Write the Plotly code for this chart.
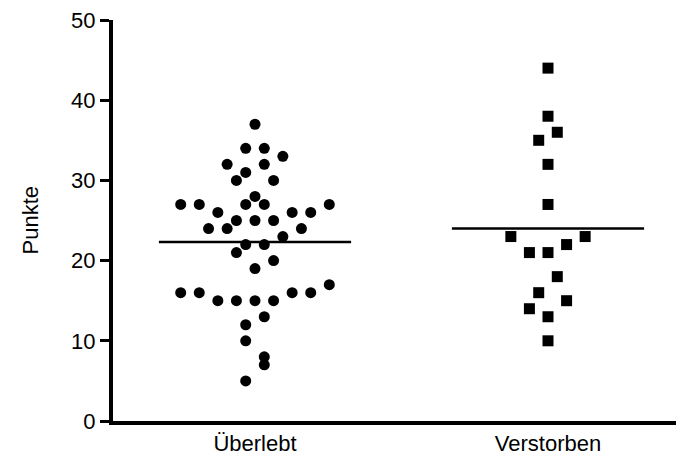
import numpy as np
import plotly.graph_objects as go

# ---- data ----
categories = ["Überlebt", "Verstorben"]

survived_values = [37, 34, 34, 33, 32, 32, 31, 30, 30, 28,
                   27, 27, 27, 27, 27, 26, 26, 26, 25, 25, 25,
                   24, 24, 24, 23, 22, 22, 21, 20, 19, 17,
                   16, 16, 16, 16, 15, 15, 15, 15, 13, 12, 10, 8, 7, 5]
# horizontal swarm slot of each point (in marker-spacing units)
survived_slots = [0, -1, 1, 3, -3, 1, -1, -2, 2, 0,
                  -8, -6, -1, 1, 8, -4, 4, 6, -2, 0, 2,
                  -5, -3, 5, 3, -1, 1, -2, 2, 0, 8,
                  -8, -6, 4, 6, -4, -2, 0, 2, 1, -1, -1, 1, 1, -1]

died_values = [44, 38, 36, 35, 32, 27, 23, 23, 22, 21, 21, 18, 16, 15, 14, 13, 10]
died_slots = [0, 0, 1, -1, 0, 0, -4, 4, 2, -2, 0, 1, -1, 2, -2, 0, 0]

y_ticks = [0, 10, 20, 30, 40, 50]
y_title = "Punkte"

# ---- style ----
FONT = "Liberation Sans, Arial, sans-serif"
swarm_step = 0.0317     # x-axis units between neighbouring swarm slots
mean_halfwidth = 0.328  # x-axis units
marker_size = 11

fig = go.Figure()

groups = [
    (survived_values, survived_slots, "circle"),
    (died_values, died_slots, "square"),
]
for ci, (vals, slots, sym) in enumerate(groups):
    xs = [ci + s * swarm_step for s in slots]
    fig.add_trace(go.Scatter(
        x=xs, y=vals, mode="markers",
        marker=dict(symbol=sym, size=marker_size, color="black",
                    line=dict(width=0)),
        showlegend=False, hoverinfo="y"))
    m = float(np.mean(vals))
    fig.add_trace(go.Scatter(
        x=[ci - mean_halfwidth, ci + mean_halfwidth], y=[m, m],
        mode="lines", line=dict(color="black", width=2.5),
        showlegend=False, hoverinfo="skip"))

# the page body adds an 8 px margin, so the figure is sized to fit the window
PAGE_OFF = 8
W, H = 684 - PAGE_OFF, 457 - PAGE_OFF
ml, mr, mt = 113 - PAGE_OFF, 0, 20 - PAGE_OFF
plot_h = 401
mb = H - mt - plot_h
plot_w = W - ml - mr
cat0_px = 255 - 113
px_per_cat = 293
x_range = [-cat0_px / px_per_cat, (plot_w - cat0_px) / px_per_cat]

fig.update_layout(
    width=W, height=H,
    margin=dict(l=ml, r=mr, t=mt, b=mb, autoexpand=False),
    paper_bgcolor="white", plot_bgcolor="white",
    font=dict(family=FONT, size=22, color="black"),
    xaxis=dict(
        range=x_range, tickmode="array", tickvals=[0, 1], ticktext=categories,
        showline=True, linecolor="black", linewidth=4,
        ticks="", showgrid=False, zeroline=False,
        tickfont=dict(family=FONT, size=22, color="black"),
        automargin=False, fixedrange=True),
    yaxis=dict(
        range=[0, 50], tickmode="array", tickvals=y_ticks,
        showline=True, linecolor="black", linewidth=4,
        ticks="outside", ticklen=9, tickwidth=3, tickcolor="black",
        showgrid=False, zeroline=False, ticklabeloverflow="allow",
        tickfont=dict(family=FONT, size=22, color="black"),
        automargin=False, fixedrange=True),
    annotations=[dict(
        text=y_title, textangle=-90, xref="paper", yref="paper",
        x=(30 - 113) / plot_w, y=0.5, xanchor="center", yanchor="middle",
        showarrow=False, font=dict(family=FONT, size=22, color="black"))],
)

fig.write_html("out.html")
